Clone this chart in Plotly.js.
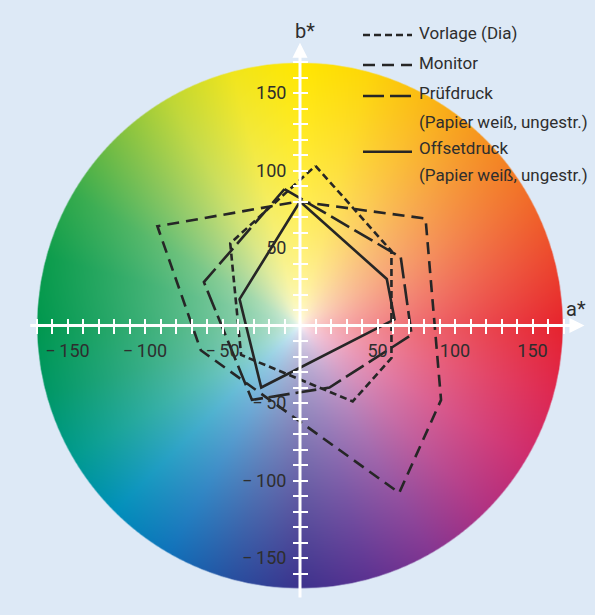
<!DOCTYPE html>
<html><head><meta charset="utf-8">
<script src="https://cdn.plot.ly/plotly-3.0.1.min.js"></script>
<style>html,body{margin:0;padding:0;background:#dde9f6;} #chart{width:595px;height:615px;}</style>
</head><body><div id="chart"></div>
<script>
// ---- data (a*, b*) ----
const seriesNames = ['Vorlage (Dia)', 'Monitor', 'Prüfdruck', 'Offsetdruck'];
const legendLabels = ['Vorlage (Dia)', 'Monitor', 'Prüfdruck<br>(Papier weiß, ungestr.)', 'Offsetdruck<br>(Papier weiß, ungestr.)'];
const vorlageA = [10, 59, 59, 34, -38, -45];
const vorlageB = [103, 48, -21, -49, -19, 53];
const monitorA = [-1, 81, 91, 64, -64, -92];
const monitorB = [80, 69, -48, -108, -16, 64];
const pruefA = [-10, 65, 72, 19, -31, -62];
const pruefB = [88, 44, -6, -40, -48, 28];
const offsetA = [0, 56, 61, -25, -39];
const offsetB = [80, 30, 4, -40, 17];
const xTickVals = [-170,-160,-150,-140,-130,-120,-110,-100,-90,-80,-70,-60,-50,-40,-30,-20,-10,10,20,30,40,50,60,70,80,90,100,110,120,130,140,150,160,170];
const xTickText = ['','','\u2212\u2009150','','','','','\u2212\u2009100','','','','','\u2212\u200950','','','','','','','','','50','','','','','100','','','','','150','',''];
const yTickVals = [-160,-150,-140,-130,-120,-110,-100,-90,-80,-70,-60,-50,-40,-30,-20,-10,10,20,30,40,50,60,70,80,90,100,110,120,130,140,150,160,170];
const yTickText = ['','\u2212\u2009150','','','','','\u2212\u2009100','','','','','\u2212\u200950','','','','','','','','','50','','','','','100','','','','','150','',''];

// ---- styles ----
const FONT = "Roboto, 'Liberation Sans', sans-serif";
const INK = '#262626';
const TXT = '#2e2e2e';
const dashes = ['7px,4px', '12px,7px', '21px,6px', 'solid'];

// ---- colour wheel background (decoration) ----
const hueStops = [
  [0,[230,35,45]],[15,[236,72,45]],[30,[241,110,40]],[45,[245,145,32]],[60,[250,182,20]],
  [75,[253,214,8]],[90,[255,231,0]],[105,[240,229,28]],[120,[190,214,52]],[135,[122,190,66]],
  [150,[52,170,76]],[165,[12,156,76]],[180,[0,151,78]],[195,[0,151,102]],[210,[0,154,142]],
  [225,[0,143,186]],[240,[16,114,186]],[255,[40,80,160]],[270,[60,50,140]],[285,[92,50,145]],
  [300,[132,54,145]],[315,[176,50,130]],[330,[206,45,110]],[345,[222,40,80]],[360,[230,35,45]]
];
function hueColor(d){
  for(let k=0;k<hueStops.length-1;k++){
    const s0=hueStops[k], s1=hueStops[k+1];
    if(d>=s0[0] && d<=s1[0]){
      const t=(d-s0[0])/(s1[0]-s0[0]);
      return [0,1,2].map(q=>s0[1][q]+(s1[1][q]-s0[1][q])*t);
    }
  }
  return hueStops[0][1];
}
const R = 169.5, N = 680, half = 170;
const cv = document.createElement('canvas'); cv.width = N; cv.height = N;
const ctx = cv.getContext('2d');
const im = ctx.createImageData(N, N);
for(let j=0;j<N;j++){
  for(let i=0;i<N;i++){
    const a = -half + (i+0.5)*2*half/N, b = half - (j+0.5)*2*half/N;
    const r = Math.sqrt(a*a+b*b);
    let al = (R - r)/0.8 + 0.5; al = Math.max(0, Math.min(1, al));
    let d = Math.atan2(b, a)*180/Math.PI; if(d<0) d+=360;
    const hc = hueColor(d);
    const s = Math.min(1, Math.pow(r/R, 0.5));
    const p = (j*N+i)*4;
    im.data[p] = 255*(1-s)+hc[0]*s;
    im.data[p+1] = 255*(1-s)+hc[1]*s;
    im.data[p+2] = 255*(1-s)+hc[2]*s;
    im.data[p+3] = al*255;
  }
}
ctx.putImageData(im, 0, 0);
const wheelURL = cv.toDataURL('image/png');

// ---- traces ----
function closed(arr){ return arr.concat([arr[0]]); }
const allA = [vorlageA, monitorA, pruefA, offsetA];
const allB = [vorlageB, monitorB, pruefB, offsetB];
const traces = seriesNames.map((n,k)=>({
  type:'scatter', mode:'lines', name:n,
  x: closed(allA[k]), y: closed(allB[k]),
  line:{color:INK, width:2.6, dash:dashes[k]},
  hoverinfo:'skip', showlegend:false
}));
traces.push({type:'scatter', mode:'markers', x:[0], y:[0], xaxis:'x2', yaxis:'y2',
  marker:{opacity:0}, hoverinfo:'skip', showlegend:false});

// ---- layout ----
const XR = [-193.548, 190.323], YR = [-186.77, 210.0];
const xPos = (0 - YR[0])/(YR[1]-YR[0]);
const yPos = (0 - XR[0])/(XR[1]-XR[0]);
const tickCommon = {showgrid:false, zeroline:false, showline:false, tickcolor:'#ffffff',
  ticklen:7, tickwidth:2, tickmode:'array', fixedrange:true, anchor:'free'};
const layout = {
  width:595, height:615, margin:{l:0,r:0,t:0,b:0,pad:0},
  paper_bgcolor:'#dde9f6', plot_bgcolor:'rgba(0,0,0,0)',
  showlegend:false,
  xaxis:Object.assign({}, tickCommon, {range:XR, position:xPos, ticks:'outside',
    tickvals:xTickVals, ticktext:xTickText, ticklabelstandoff:2,
    tickfont:{family:FONT, size:18, color:TXT}}),
  xaxis2:Object.assign({}, tickCommon, {range:XR, matches:'x', overlaying:'x', position:xPos, ticks:'inside',
    tickvals:xTickVals, showticklabels:false}),
  yaxis:Object.assign({}, tickCommon, {range:YR, position:yPos, ticks:'outside',
    tickvals:yTickVals, ticktext:yTickText, ticklabelstandoff:3,
    tickfont:{family:FONT, size:18, color:TXT}}),
  yaxis2:Object.assign({}, tickCommon, {range:YR, matches:'y', overlaying:'y', position:yPos, ticks:'inside',
    tickvals:yTickVals, showticklabels:false}),
  images:[{source:wheelURL, xref:'x', yref:'y', x:-half, y:half, sizex:2*half, sizey:2*half,
    sizing:'stretch', layer:'below', xanchor:'left', yanchor:'top'}],
  annotations:[
    {x:183.5, y:0, ax:-175, ay:0, xref:'x', yref:'y', axref:'x', ayref:'y', text:'', showarrow:true,
     arrowhead:2, arrowsize:1, arrowwidth:3, arrowcolor:'#ffffff'},
    {x:0, y:182.5, ax:0, ay:-176.5, xref:'x', yref:'y', axref:'x', ayref:'y', text:'', showarrow:true,
     arrowhead:2, arrowsize:1, arrowwidth:3, arrowcolor:'#ffffff'},
    {x:178, y:10.5, xref:'x', yref:'y', text:'a*', showarrow:false, font:{family:FONT, size:20, color:TXT}},
    {x:3.5, y:190, xref:'x', yref:'y', text:'b*', showarrow:false, font:{family:FONT, size:20, color:TXT}}
  ],
  shapes:[]
};
// legend drawn as text + sample lines (one text line per annotation for exact spacing)
const legTextY = [[33.3], [63.3], [93.3, 121.7], [148.3, 175]];
const legLineY = [35, 65, 96, 151.7];
legendLabels.forEach((t,k)=>{
  t.split('<br>').forEach((line,m)=>{
    layout.annotations.push({xref:'paper', yref:'paper', x:417/595, y:1-legTextY[k][m]/615,
      xanchor:'left', yanchor:'middle', align:'left', text:line, showarrow:false,
      font:{family:FONT, size:17, color:TXT}});
  });
  layout.shapes.push({type:'line', xref:'paper', yref:'paper', x0:363/595, x1:412/595,
    y0:1-legLineY[k]/615, y1:1-legLineY[k]/615, line:{color:INK, width:2.6, dash:dashes[k]}});
});

Plotly.newPlot('chart', traces, layout, {displayModeBar:false, staticPlot:true});
</script>
</body></html>
